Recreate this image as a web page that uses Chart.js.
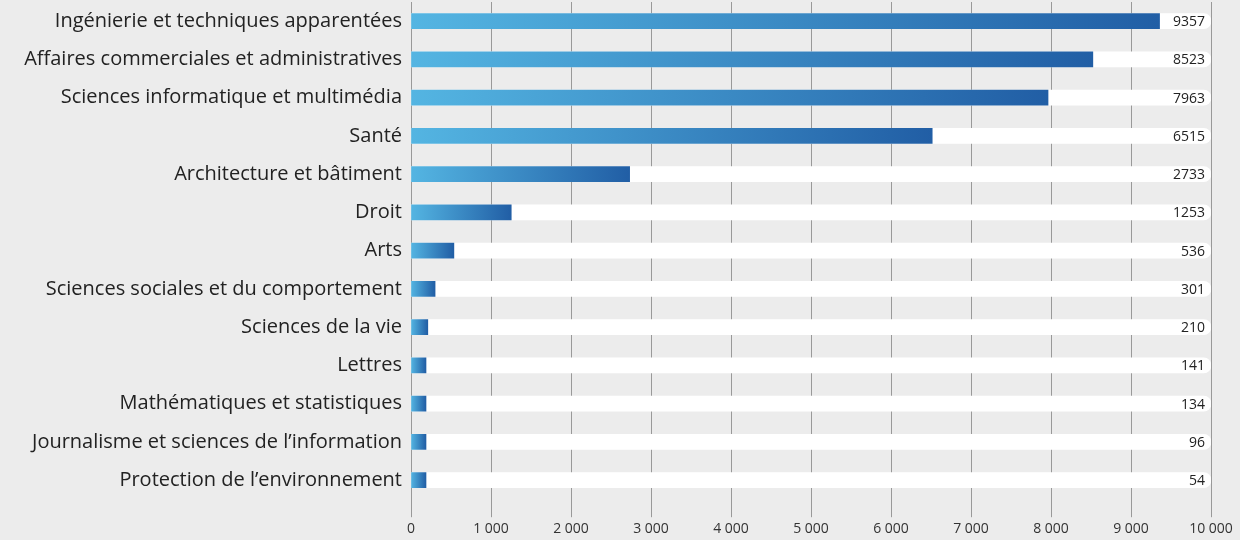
<!DOCTYPE html>
<html lang="fr">
<head>
<meta charset="utf-8">
<title>Effectifs par domaine d'études</title>
<script src="https://cdn.jsdelivr.net/npm/chart.js@4.4.1/dist/chart.umd.min.js"></script>
<style>
  html, body { margin: 0; padding: 0; background: #ececec; }
  #wrap { width: 1240px; height: 540px; position: relative; }
</style>
</head>
<body>
<div id="wrap"><canvas id="chart" width="1240" height="540"></canvas></div>
<script>
// Domaines d'études et nombre d'inscrits
const categories = [
  'Ingénierie et techniques apparentées',
  'Affaires commerciales et administratives',
  'Sciences informatique et multimédia',
  'Santé',
  'Architecture et bâtiment',
  'Droit',
  'Arts',
  'Sciences sociales et du comportement',
  'Sciences de la vie',
  'Lettres',
  'Mathématiques et statistiques',
  'Journalisme et sciences de l\u2019information',
  'Protection de l\u2019environnement'
];
const values = [9357, 8523, 7963, 6515, 2733, 1253, 536, 301, 210, 141, 134, 96, 54];
const axisMax = 10000;
const trackValues = categories.map(() => axisMax);
const xTickLabels = ['0', '1 000', '2 000', '3 000', '4 000', '5 000', '6 000', '7 000', '8 000', '9 000', '10 000'];

const FONT = "'Open Sans', 'DejaVu Sans', sans-serif";

// Dégradé bleu clair -> bleu foncé, du début à la fin de chaque barre
function barGradient(ctx) {
  const chart = ctx.chart;
  const x = chart.scales.x;
  if (!chart.chartArea || !x || ctx.type !== 'data') return '#3a8fcf';
  const x0 = x.getPixelForValue(0);
  const x1 = Math.max(x.getPixelForValue(ctx.raw), x0 + 15);
  if (!isFinite(x0) || !isFinite(x1)) return '#3a8fcf';
  const g = chart.ctx.createLinearGradient(x0, 0, x1, 0);
  g.addColorStop(0, '#54b5e2');
  g.addColorStop(1, '#215ea5');
  return g;
}

// Valeurs écrites au bout de chaque piste blanche
const valueLabels = {
  id: 'valueLabels',
  afterDatasetsDraw(chart) {
    const { ctx } = chart;
    const x = chart.scales.x;
    const y = chart.scales.y;
    ctx.save();
    ctx.font = '14px ' + FONT;
    ctx.fillStyle = '#222';
    ctx.textAlign = 'right';
    ctx.textBaseline = 'middle';
    values.forEach((v, i) => {
      ctx.fillText(String(v), x.getPixelForValue(axisMax) - 6, y.getPixelForValue(i) + 1);
    });
    ctx.restore();
  }
};

new Chart(document.getElementById('chart'), {
  type: 'bar',
  data: {
    labels: categories,
    datasets: [
      {
        label: 'Inscrits',
        data: values,
        backgroundColor: barGradient,
        barThickness: 15,
        minBarLength: 15,
        grouped: false,
        order: 1
      },
      {
        label: 'Piste',
        data: trackValues,
        backgroundColor: '#ffffff',
        barThickness: 15,
        grouped: false,
        order: 2,
        borderRadius: { topLeft: 0, bottomLeft: 0, topRight: 8, bottomRight: 8 },
        borderSkipped: false
      }
    ]
  },
  options: {
    indexAxis: 'y',
    responsive: false,
    animation: false,
    devicePixelRatio: 1,
    layout: { padding: { top: 2, right: 29, bottom: 0, left: 0 } },
    plugins: {
      legend: { display: false },
      tooltip: { enabled: false }
    },
    scales: {
      x: {
        min: 0,
        max: axisMax,
        ticks: {
          stepSize: 1000,
          color: '#333',
          font: { family: FONT, size: 14 },
          padding: 3,
          maxRotation: 0,
          callback: (v, i) => xTickLabels[i]
        },
        grid: {
          color: '#999999',
          lineWidth: 1,
          drawTicks: true,
          tickLength: 18,
          tickColor: '#999999'
        },
        border: { display: false }
      },
      y: {
        ticks: {
          color: '#222',
          font: { family: FONT, size: 20 },
          padding: 9,
          autoSkip: false
        },
        grid: { display: false, drawTicks: false },
        border: { display: false },
        afterFit(scale) {
          scale.width = 411;
          scale.paddingTop = 0;
          scale.paddingBottom = 0;
        }
      }
    }
  },
  plugins: [valueLabels]
});
</script>
</body>
</html>
